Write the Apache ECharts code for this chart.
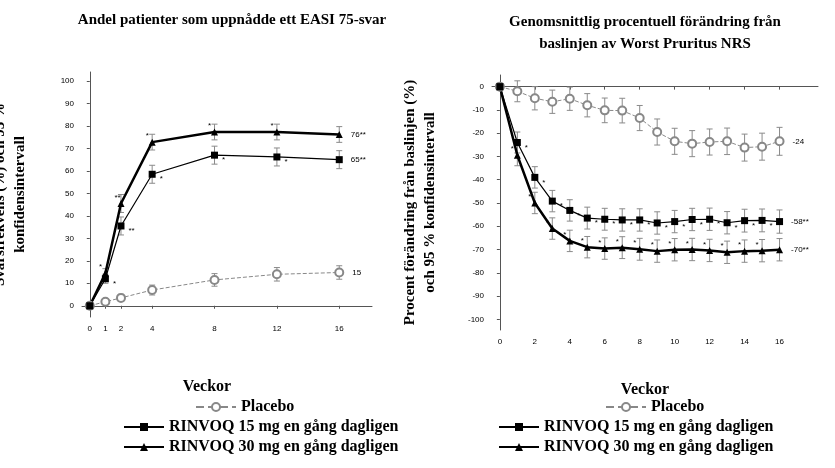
<!DOCTYPE html>
<html>
<head>
<meta charset="utf-8">
<script src="https://cdn.jsdelivr.net/npm/echarts@6/dist/echarts.min.js"></script>
<style>html,body{margin:0;padding:0;background:#fff}#c{width:835px;height:468px}</style>
</head>
<body>
<div id="c"></div>
<script>
// vänster diagram: EASI 75
const weeksL = [0, 1, 2, 4, 8, 12, 16];
const placeboL = [0, 1.8, 3.5, 7, 11.5, 14, 14.8];
const r15L = [0, 12, 35.5, 58.5, 67, 66.2, 65];
const r30L = [0, 14.5, 45.5, 72.8, 77.3, 77.3, 76.2];
const errPlaceboL = [0, 1.2, 1.6, 2.2, 2.8, 3, 3];
const err15L = [0, 2, 4, 4, 4, 4, 4];
const err30L = [0, 2, 4, 3.5, 3.5, 3.5, 3.5];
const star15L = ['', '*', '**', '*', '*', '*', '65**'];
const star30L = ['', '*', '**', '*', '*', '*', '76**'];
const xTicksL = [0, 1, 2, 4, 8, 12, 16];

// höger diagram: Worst Pruritus NRS
const weeksR = [0,1,2,3,4,5,6,7,8,9,10,11,12,13,14,15,16];
const placeboR = [0,-2,-5,-6.5,-5.2,-8,-10.2,-10.3,-13.5,-19.5,-23.5,-24.5,-23.8,-23.5,-26.2,-25.8,-23.5];
const r15R = [0,-24,-39,-49.2,-53.2,-56.5,-57,-57.3,-57.3,-58.6,-58,-57.1,-57,-58.5,-57.6,-57.5,-58];
const r30R = [0,-29.5,-50,-61,-66.3,-69,-69.6,-69.2,-69.9,-70.7,-70.1,-70,-70.4,-71.2,-70.7,-70.5,-70.1];
const errPlaceboR = [0,4.5,5,5,5,5,5.3,5.3,5.4,5.6,5.6,5.6,5.6,5.7,5.8,5.8,6];
const err15R = [0,4.5,4.6,4.6,4.6,4.7,4.7,4.8,4.8,4.8,4.8,4.8,4.8,4.8,4.9,4.9,5];
const err30R = [0,4.5,4.6,4.6,4.6,4.6,4.6,4.7,4.7,4.8,4.8,4.8,4.8,4.8,4.8,4.8,4.8];
const star15R = ['','*','*','*','*','*','*','*','*','*','*','*','*','*','*','*','-58**'];
const star30R = ['','*','*','*','*','*','*','*','*','*','*','*','*','*','*','*','-70**'];

const serif = '"Liberation Serif", "DejaVu Serif", serif';
const sans = 'Arial, "Liberation Sans", sans-serif';
const NAMES = ['Placebo', 'RINVOQ 15 mg en gång dagligen', 'RINVOQ 30 mg en gång dagligen'];

const zip = (xs, ys) => xs.map((x, i) => [x, ys[i]]);
const zipErr = (xs, ys, es) => xs.map((x, i) => [x, ys[i] - es[i], ys[i] + es[i]]).filter((d, i) => es[i] > 0);

function errSeries(idx, data) {
  return {
    type: 'custom', xAxisIndex: idx, yAxisIndex: idx, silent: true, z: 1,
    data: data,
    renderItem: (params, api) => {
      const lo = api.coord([api.value(0), api.value(1)]);
      const hi = api.coord([api.value(0), api.value(2)]);
      const w = 3;
      const st = { stroke: '#8a8a8a', lineWidth: 1 };
      return {
        type: 'group', children: [
          { type: 'line', shape: { x1: lo[0], y1: lo[1], x2: hi[0], y2: hi[1] }, style: st },
          { type: 'line', shape: { x1: lo[0] - w, y1: lo[1], x2: lo[0] + w, y2: lo[1] }, style: st },
          { type: 'line', shape: { x1: hi[0] - w, y1: hi[1], x2: hi[0] + w, y2: hi[1] }, style: st }
        ]
      };
    }
  };
}

function lineSeries(idx, kind, data, stars) {
  const s = {
    type: 'line', name: NAMES[kind], xAxisIndex: idx, yAxisIndex: idx, data: data, z: 3,
    symbolSize: 7
  };
  if (kind === 0) {
    s.symbol = 'emptyCircle';
    s.symbolSize = 8;
    s.itemStyle = { color: '#888', borderColor: '#888', borderWidth: 1 };
    s.lineStyle = { color: '#888', width: 1, type: 'dashed' };
  } else if (kind === 1) {
    s.symbol = 'rect';
    s.itemStyle = { color: '#000' };
    s.lineStyle = { color: '#000', width: 1.2 };
  } else {
    s.symbol = 'triangle';
    s.itemStyle = { color: '#000' };
    s.lineStyle = { color: '#000', width: 2.5 };
  }
  if (stars) {
    s.label = {
      show: true, position: 'right', distance: 4,
      fontSize: 8, fontFamily: sans, color: '#000',
      formatter: p => stars[p.dataIndex] || ''
    };
    s.labelLayout = p => {
      if (p.text.length > 2 || p.dataIndex === data.length - 1) return { dx: 4 };
      if (kind === 2) return { dx: -14, dy: -6 };
      return { dy: 5 };
    };
  }
  return s;
}

const axisText = { fontSize: 8, fontFamily: sans, color: '#000' };
const chart = echarts.init(document.getElementById('c'));
chart.setOption({
  animation: false,
  title: [
    { text: 'Andel patienter som uppnådde ett EASI 75-svar', left: 227, top: 8, textAlign: 'center',
      textStyle: { fontFamily: serif, fontSize: 15, fontWeight: 'bold', color: '#000' } },
    { text: 'Genomsnittlig procentuell förändring från\nbaslinjen av Worst Pruritus NRS', left: 640, top: 6, textAlign: 'center',
      textStyle: { fontFamily: serif, fontSize: 15, fontWeight: 'bold', color: '#000', lineHeight: 22 } }
  ],
  grid: [
    { left: 82, top: 72, width: 290, height: 245, outerBoundsMode: 'none', containLabel: false },
    { left: 492, top: 75, width: 326, height: 255, outerBoundsMode: 'none', containLabel: false }
  ],
  legend: [
    { data: ['Placebo'], left: 190, top: 394 },
    { data: [NAMES[1], NAMES[2]], left: 118, top: 414, itemGap: 4 },
    { data: ['Placebo'], left: 600, top: 394 },
    { data: [NAMES[1], NAMES[2]], left: 493, top: 414, itemGap: 4 }
  ].map(l => Object.assign({ itemWidth: 40, itemHeight: 10, orient: 'vertical', selectedMode: false,
    textStyle: { fontFamily: serif, fontSize: 16, fontWeight: 'bold', color: '#000' } }, l)),
  xAxis: [
    { type: 'value', gridIndex: 0, min: -0.5, max: 18.1, splitLine: { show: false },
      name: 'Veckor', nameLocation: 'middle', nameGap: 62,
      nameTextStyle: { fontFamily: serif, fontSize: 16, fontWeight: 'bold', color: '#000', padding: [0, 0, 0, -40] },
      axisLine: { lineStyle: { color: '#555' } },
      axisLabel: Object.assign({ customValues: xTicksL }, axisText),
      axisTick: { show: true, customValues: xTicksL, length: 3 } },
    { type: 'value', gridIndex: 1, min: -0.45, max: 18.2, splitLine: { show: false },
      name: 'Veckor', nameLocation: 'middle', nameGap: 52,
      nameTextStyle: { fontFamily: serif, fontSize: 16, fontWeight: 'bold', color: '#000', padding: [0, 0, 0, -20] },
      axisLine: { lineStyle: { color: '#555' } },
      axisLabel: Object.assign({ customValues: [0,2,4,6,8,10,12,14,16] }, axisText),
      axisTick: { show: true, customValues: [0,2,4,6,8,10,12,14,16], length: 3 } }
  ],
  yAxis: [
    { type: 'value', gridIndex: 0, min: -5, max: 104, splitLine: { show: false },
      name: 'Svarsfrekvens (%) och 95 %\nkonfidensintervall', nameLocation: 'middle', nameGap: 52,
      nameTextStyle: { fontFamily: serif, fontSize: 15, fontWeight: 'bold', color: '#000', lineHeight: 20 },
      axisLine: { show: true, lineStyle: { color: '#555' } },
      axisLabel: Object.assign({ customValues: [0,10,20,30,40,50,60,70,80,90,100] }, axisText),
      axisTick: { show: true, customValues: [0,10,20,30,40,50,60,70,80,90,100], length: 3 } },
    { type: 'value', gridIndex: 1, min: -104.6, max: 5, splitLine: { show: false },
      name: 'Procent förändring från baslinjen (%)\noch 95 % konfidensintervall', nameLocation: 'middle', nameGap: 52,
      nameTextStyle: { fontFamily: serif, fontSize: 15, fontWeight: 'bold', color: '#000', lineHeight: 20 },
      axisLine: { show: true, lineStyle: { color: '#555' } },
      axisLabel: Object.assign({ customValues: [0,-10,-20,-30,-40,-50,-60,-70,-80,-90,-100] }, axisText),
      axisTick: { show: true, customValues: [0,-10,-20,-30,-40,-50,-60,-70,-80,-90,-100], length: 3 } }
  ],
  series: [
    errSeries(0, zipErr(weeksL, placeboL, errPlaceboL)),
    errSeries(0, zipErr(weeksL, r15L, err15L)),
    errSeries(0, zipErr(weeksL, r30L, err30L)),
    lineSeries(0, 0, zip(weeksL, placeboL), ['', '', '', '', '', '', '15']),
    lineSeries(0, 1, zip(weeksL, r15L), star15L),
    lineSeries(0, 2, zip(weeksL, r30L), star30L),
    errSeries(1, zipErr(weeksR, placeboR, errPlaceboR)),
    errSeries(1, zipErr(weeksR, r15R, err15R)),
    errSeries(1, zipErr(weeksR, r30R, err30R)),
    lineSeries(1, 0, zip(weeksR, placeboR), weeksR.map((w, i) => i === 16 ? '-24' : '')),
    lineSeries(1, 1, zip(weeksR, r15R), star15R),
    lineSeries(1, 2, zip(weeksR, r30R), star30R)
  ]
});
</script>
</body>
</html>
